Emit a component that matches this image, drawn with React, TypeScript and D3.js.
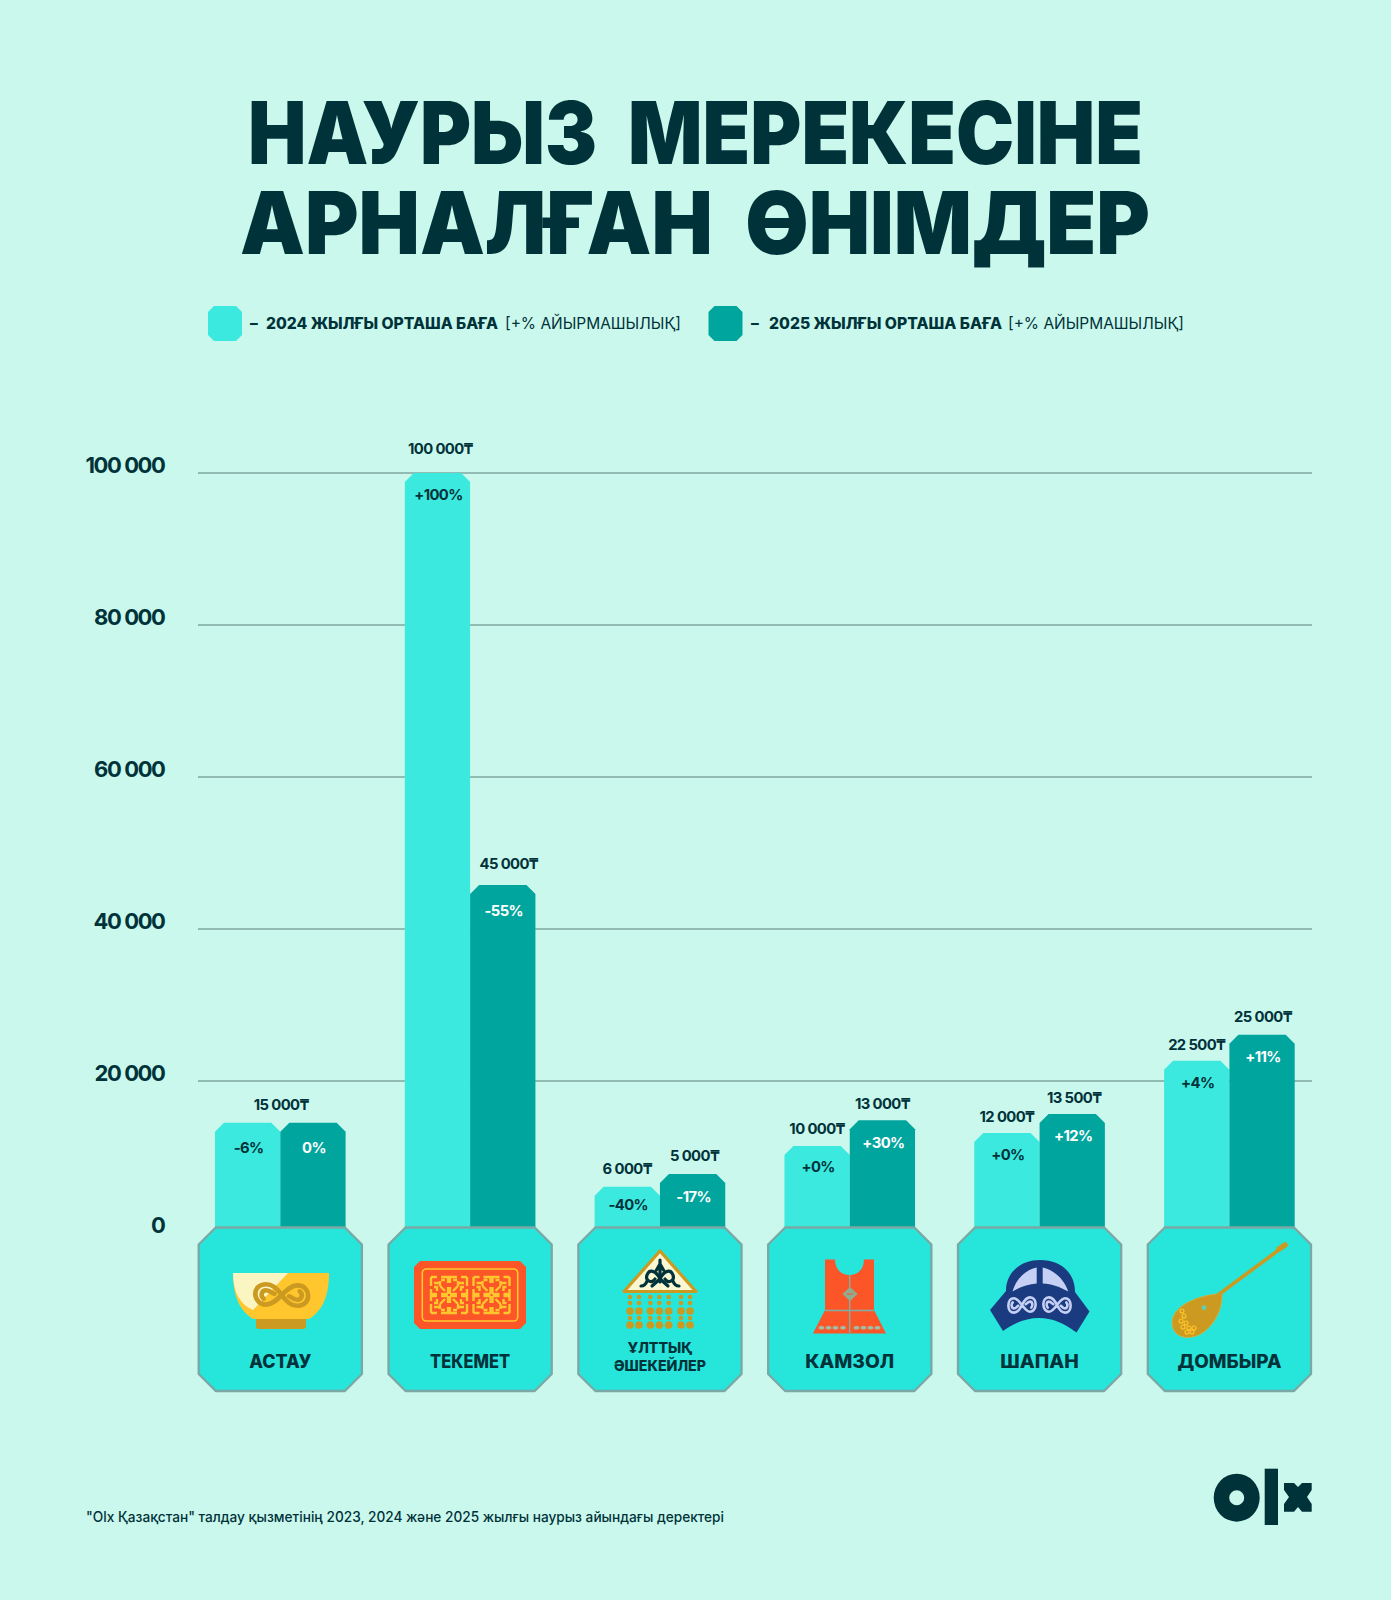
import React from "react";
import * as d3 from "d3";

// ---------- data ----------
const categories = ["АСТАУ", "ТЕКЕМЕТ", "ҰЛТТЫҚ ӘШЕКЕЙЛЕР", "КАМЗОЛ", "ШАПАН", "ДОМБЫРА"];
const categoryLines = [["АСТАУ"], ["ТЕКЕМЕТ"], ["ҰЛТТЫҚ", "ӘШЕКЕЙЛЕР"], ["КАМЗОЛ"], ["ШАПАН"], ["ДОМБЫРА"]];
// Bar heights, on the picture's own axis
const bar2024 = [14500, 100000, 6100, 11450, 13150, 22650];
const bar2025 = [14500, 45800, 7750, 14850, 15650, 26100];
// Printed labels
const price2024 = ["", "100 000₸", "6 000₸", "10 000₸", "12 000₸", "22 500₸"];
const price2025 = ["", "45 000₸", "5 000₸", "13 000₸", "13 500₸", "25 000₸"];
const sharedPrice = ["15 000₸", "", "", "", "", ""];
const pct2024 = ["-6%", "+100%", "-40%", "+0%", "+0%", "+4%"];
const pct2025 = ["0%", "-55%", "-17%", "+30%", "+12%", "+11%"];
const yTicks = [0, 20000, 40000, 60000, 80000, 100000];
const titleLines = ["НАУРЫЗ  МЕРЕКЕСІНЕ", "АРНАЛҒАН  ӨНІМДЕР"];
const footer = "\"Olx Қазақстан\" талдау қызметінің 2023, 2024 және 2025 жылғы наурыз айындағы деректері";

// ---------- style and layout ----------
const BG = "#CBF8EC";
const C24 = "#3BE9DE";
const C25 = "#00A59E";
const BOX = "#26E5DB";
const BOX_EDGE = "#7BA8A4";
const GRID = "#7FA9A1";
const DARK = "#00323A";
const GOLD = "#CC9A20";
const YEL = "#FFC62E";
const ORANGE = "#FB5528";
const NAVY = "#1B3B80";
const PALE = "#C6D0F4";
const FONT = "Inter, 'DejaVu Sans', sans-serif";

const x = d3.scalePoint<string>().domain(categories).range([280.3, 1229.4]);
const y = d3.scaleLinear().domain([0, 100000]).range([1233, 473]);
const BAR_W = 65.3;
const BOX_W = 163.2;
const BOX_TOP = 1227.5;
const BOX_BOTTOM = 1391;

const pctDrop2024 = [25, 22, 18.5, 21, 22, 22];
const pctDrop2025 = [25, 26, 23, 23, 22, 22];
const priceLift2024 = [18, 24, 17.5, 16.5, 16.5, 16];
const priceLift2025 = [18, 20.5, 18, 16, 16.5, 18];
const priceNudge2025 = [0, 4, 0, -2, 0, -1];
const catWidth = [62, 80, 0, 89, 78.5, 104];

const fmtTick = (v: number) => d3.format(",")(v).replace(/,/g, " ");

function barPath(x0: number, top: number, w: number, bottom: number) {
  const c = 9;
  const p = d3.path();
  p.moveTo(x0, bottom);
  p.lineTo(x0, top + c);
  p.lineTo(x0 + c, top);
  p.lineTo(x0 + w - c, top);
  p.lineTo(x0 + w, top + c);
  p.lineTo(x0 + w, bottom);
  p.closePath();
  return p.toString();
}

function octagon(cx: number) {
  const l = cx - BOX_W / 2, r = cx + BOX_W / 2, c = 17;
  return `M${l + c} ${BOX_TOP}H${r - c}L${r} ${BOX_TOP + c}V${BOX_BOTTOM - c}L${r - c} ${BOX_BOTTOM}H${l + c}L${l} ${BOX_BOTTOM - c}V${BOX_TOP + c}Z`;
}

// S-shaped double scroll used on several of the icons
function Scroll({ cx, cy, color, sw, kx = 1, ky = 1, flip = false }: any) {
  return (
    <g transform={`translate(${cx} ${cy}) scale(${flip ? -kx : kx} ${ky})`} fill="none" stroke={color} strokeWidth={sw} strokeLinecap="round">
      <path vectorEffect="non-scaling-stroke" d="M0 0C-4 -6 -9 -9 -13 -9C-19 -9 -22 -5 -22 -1C-22 5 -17 8 -13 8C-8 8 -4 4 0 0C4 -4 8 -8 13 -8C18 -8 22 -5 22 1C22 6 18 9 13 9C8 9 4 6 0 0Z" />
      <path vectorEffect="non-scaling-stroke" d="M-15 3C-18 1 -17 -4 -13 -4C-9 -4 -8 -1 -6 -1" />
      <path vectorEffect="non-scaling-stroke" d="M15 -3C18 -1 17 4 13 4C9 4 8 1 6 1" />
    </g>
  );
}

function Bowl() {
  return (
    <g>
      <path d="M256 1316H306V1326Q306 1329 303 1329H259Q256 1329 256 1326Z" fill={GOLD} />
      <path d="M233 1273H329C329 1297 322 1311 309 1319H253C240 1311 233 1297 233 1273Z" fill={YEL} />
      <path d="M233 1273H288L253 1310C240 1305 233 1292 233 1273Z" fill="#FBF5C2" />
      <Scroll cx={281.7} cy={1295} color={GOLD} sw={4.6} kx={1.2} ky={1.2} />
    </g>
  );
}

const quadrant = "M1 1H8M1 1V8M4 4L9 9M12 1H18V6M18 9V18M12 18H18M15 12H10M1 12V18H8M4 15H8M12 4V8H15M9 9V14";
function Kufic({ cx, cy }: any) {
  return (
    <g fill="none" stroke={YEL} strokeWidth={2.4}>
      {[[1, 1], [-1, 1], [1, -1], [-1, -1]].map(([a, b], i) => (
        <path key={i} d={quadrant} transform={`translate(${cx} ${cy}) scale(${a} ${b})`} />
      ))}
    </g>
  );
}

function Carpet() {
  return (
    <g>
      <path d="M420 1261H520L526 1267V1323L520 1329H420L414 1323V1267Z" fill={ORANGE} />
      <rect x={422.3} y={1269} width={95.4} height={52} rx={4} fill="none" stroke={YEL} strokeWidth={1.6} />
      <Kufic cx={449} cy={1295} />
      <Kufic cx={491.5} cy={1295} />
    </g>
  );
}

const beadCols = [630, 639, 650.3, 659.3, 668.7, 681, 690];
function Ornament() {
  return (
    <g>
      <path d="M660 1251L696 1291.5H624Z" fill="#FBF7D2" stroke={GOLD} strokeWidth={3.2} strokeLinejoin="round" />
      <g fill="none" stroke={DARK} strokeWidth={3.2} strokeLinecap="round">
        <path d="M660 1260V1282M656.5 1270L660 1264L663.5 1270" />
        <path d="M660 1279C656 1270 649 1269 647 1275C645 1281 652 1284 655 1279M641 1286C644 1286 646 1284 647 1281" />
        <path d="M660 1279C664 1270 671 1269 673 1275C675 1281 668 1284 665 1279M679 1286C676 1286 674 1284 673 1281" />
        <path d="M652 1286L660 1279L668 1286" />
      </g>
      {beadCols.map((bx) => (
        <g key={bx} fill={GOLD}>
          <circle cx={bx} cy={1297} r={2.3} />
          <circle cx={bx} cy={1303} r={2.3} />
          <circle cx={bx} cy={1311} r={3.8} />
          <circle cx={bx} cy={1318} r={2.3} />
          <circle cx={bx} cy={1325} r={3.8} />
        </g>
      ))}
    </g>
  );
}

function Kamzol() {
  const seam = "#7FAFA5";
  return (
    <g>
      <path d="M825 1259.5H835C835 1269 841 1275 849.5 1275C858 1275 864 1269 864 1259.5H874V1310L886 1333.5H813L825 1310Z" fill={ORANGE} />
      <path d="M849.7 1275V1333M825 1310.5H874" stroke={seam} strokeWidth={1.4} fill="none" />
      <path d="M842.5 1294L850 1287L857.5 1294L850 1301Z" fill="#8EAD8E" />
      <path d="M846.7 1294H853.3" stroke={ORANGE} strokeWidth={1} />
      {[821.5, 828.5, 835.5, 843, 856.5, 863.5, 870.5, 877.5].map((cx) => (
        <ellipse key={cx} cx={cx} cy={1327.7} rx={3} ry={2} fill="#9DC0A8" stroke={ORANGE} strokeWidth={0.4} />
      ))}
    </g>
  );
}

function Hat() {
  return (
    <g>
      <path d="M990 1310L1006 1291C1006 1272 1021 1260 1040 1260C1060 1260 1075 1272 1075 1292L1089.5 1311.5L1076.5 1332.5C1064 1323 1052 1318 1039 1318C1026 1318 1014 1323 1003 1331Z" fill={NAVY} />
      <path d="M1012.5 1291.5C1016 1279 1025 1270 1036.7 1267.5V1283.5C1028 1284 1020 1287 1012.5 1291.5Z" fill={PALE} />
      <path d="M1042.7 1267.5C1054 1270 1064 1279 1068.3 1291.5C1060 1287 1052 1284 1042.7 1283.5Z" fill={PALE} />
      <Scroll cx={1022} cy={1305} color={PALE} sw={2.6} kx={0.62} ky={0.85} flip />
      <Scroll cx={1057} cy={1305} color={PALE} sw={2.6} kx={0.62} ky={0.85} />
    </g>
  );
}

const dombyraDots = [[1182, 1311], [1184, 1316], [1181, 1321], [1186, 1323], [1183, 1327], [1189, 1328], [1194, 1328], [1187, 1332], [1192, 1332]];
function Dombyra() {
  return (
    <g>
      <path d="M1222 1293.5C1197 1295 1172 1306 1172 1323C1172 1334 1182 1339 1192 1337C1210 1334 1223 1312 1222 1293.5Z" fill={GOLD} stroke="#DDB035" strokeWidth={0.8} />
      <path d="M1218 1295L1280 1249" stroke={GOLD} strokeWidth={3.6} strokeLinecap="round" />
      <path d="M1279 1249L1285 1245" stroke={GOLD} strokeWidth={5.5} strokeLinecap="round" />
      <circle cx={1204} cy={1307.7} r={2.4} fill="#62CDB4" />
      {dombyraDots.map(([a, b], i) => (
        <circle key={i} cx={a} cy={b} r={2} fill="none" stroke={YEL} strokeWidth={1.1} />
      ))}
    </g>
  );
}

const icons = [Bowl, Carpet, Ornament, Kamzol, Hat, Dombyra];

function Legend() {
  const sw = (x0: number, fill: string) => (
    <path d={`M${x0 + 6} 306H${x0 + 28}L${x0 + 34} 312V335L${x0 + 28} 341H${x0 + 6}L${x0} 335V312Z`} fill={fill} />
  );
  const t = { fontFamily: FONT, fontSize: 15.5, fill: DARK, dominantBaseline: "central" } as any;
  return (
    <g>
      {sw(208, C24)}
      {sw(708.5, C25)}
      <text {...t} x={250} y={323} fontWeight={800}>–</text>
      <text {...t} x={266} y={323} fontWeight={800} textLength={232} lengthAdjust="spacingAndGlyphs">2024 ЖЫЛҒЫ ОРТАША БАҒА</text>
      <text {...t} x={505} y={323} fontWeight={400} textLength={176} lengthAdjust="spacingAndGlyphs">[+% АЙЫРМАШЫЛЫҚ]</text>
      <text {...t} x={751} y={323} fontWeight={800}>–</text>
      <text {...t} x={769} y={323} fontWeight={800} textLength={233} lengthAdjust="spacingAndGlyphs">2025 ЖЫЛҒЫ ОРТАША БАҒА</text>
      <text {...t} x={1008} y={323} fontWeight={400} textLength={176} lengthAdjust="spacingAndGlyphs">[+% АЙЫРМАШЫЛЫҚ]</text>
    </g>
  );
}

function Logo() {
  return (
    <g fill={DARK}>
      <path fillRule="evenodd" d="M1213.7 1497.7a23 24 0 1 0 46 0a23 24 0 1 0 -46 0ZM1229.2 1497.7a7.5 7.5 0 1 1 15 0a7.5 7.5 0 1 1 -15 0Z" />
      <rect x={1264.7} y={1468.7} width={13.3} height={56.3} />
      <path d="M1284 1483H1294L1298 1487L1302 1483H1311.7V1490L1307 1497L1311.7 1504V1511.7H1302L1298 1507L1294 1511.7H1284V1504L1289 1497L1284 1490Z" />
    </g>
  );
}

export default function App() {
  const halfLabel = { fontFamily: FONT, fontSize: 14.8, fontWeight: 700, textAnchor: "middle", dominantBaseline: "central", letterSpacing: -0.6 } as any;
  return (
    <svg width={1391} height={1600} viewBox="0 0 1391 1600" style={{ position: "absolute", left: 0, top: 0, display: "block" }}>
      <rect width={1391} height={1600} fill={BG} />

      {titleLines.map((line, i) => (
        <text key={line} x={[248, 240][i]} y={[164, 254][i]} fontFamily={FONT} fontWeight={900} fontSize={87} fill={DARK}
          textLength={[895, 910][i]} lengthAdjust="spacingAndGlyphs" style={{ whiteSpace: "pre" }}>
          {line}
        </text>
      ))}

      <Legend />

      {yTicks.filter((t) => t > 0).map((t) => (
        <line key={t} x1={198} x2={1312} y1={y(t)} y2={y(t)} stroke={GRID} strokeWidth={1.5} />
      ))}
      {yTicks.map((t) => (
        <text key={t} x={164.5} y={y(t) - 8.5} textAnchor="end" dominantBaseline="central" fontFamily={FONT} fontWeight={700}
          fontSize={22} letterSpacing={-1.4} fill={DARK}>
          {fmtTick(t)}
        </text>
      ))}

      {categories.map((c, i) => {
        const cx = x(c) as number;
        return (
          <g key={c}>
            <path d={barPath(cx - BAR_W, y(bar2024[i]), BAR_W, BOX_TOP + 4)} fill={C24} />
            <path d={barPath(cx, y(bar2025[i]), BAR_W, BOX_TOP + 4)} fill={C25} />
          </g>
        );
      })}

      {categories.map((c, i) => {
        const cx = x(c) as number;
        const t24 = y(bar2024[i]);
        const t25 = y(bar2025[i]);
        return (
          <g key={c + "-labels"}>
            {sharedPrice[i] && <text {...halfLabel} x={cx + 1} y={t24 - priceLift2024[i]} fill={DARK}>{sharedPrice[i]}</text>}
            {price2024[i] && (
              <text {...halfLabel} x={cx - BAR_W / 2 + (bar2024[i] > 90000 ? 3 : 0)} y={t24 - priceLift2024[i]} fill={DARK}>{price2024[i]}</text>
            )}
            {price2025[i] && <text {...halfLabel} x={cx + BAR_W / 2 + 2 + priceNudge2025[i]} y={t25 - priceLift2025[i]} fill={DARK}>{price2025[i]}</text>}
            <text {...halfLabel} x={cx - BAR_W / 2 + 1} y={t24 + pctDrop2024[i]} fill={DARK}>{pct2024[i]}</text>
            <text {...halfLabel} x={cx + BAR_W / 2 + 1} y={t25 + pctDrop2025[i]} fill="#FFFFFF">{pct2025[i]}</text>
          </g>
        );
      })}

      {categories.map((c, i) => {
        const cx = x(c) as number;
        const Icon = icons[i];
        const lines = categoryLines[i];
        return (
          <g key={c + "-box"}>
            <path d={octagon(cx)} fill={BOX} stroke={BOX_EDGE} strokeWidth={2.3} strokeLinejoin="round" />
            <Icon />
            {lines.length === 1 ? (
              <text x={cx} y={1361} textAnchor="middle" dominantBaseline="central" fontFamily={FONT} fontWeight={800} fontSize={18.5} fill={DARK}
                textLength={catWidth[i]} lengthAdjust="spacingAndGlyphs">
                {lines[0]}
              </text>
            ) : (
              lines.map((l, k) => (
                <text key={l} x={cx} y={1347.5 + k * 17.5} textAnchor="middle" dominantBaseline="central" fontFamily={FONT} fontWeight={800} fontSize={14.2} fill={DARK}>
                  {l}
                </text>
              ))
            )}
          </g>
        );
      })}

      <text x={86} y={1516} dominantBaseline="central" fontFamily={FONT} fontSize={14.4} fontWeight={500} fill={DARK} textLength={638} lengthAdjust="spacingAndGlyphs">
        {footer}
      </text>
      <Logo />
    </svg>
  );
}
